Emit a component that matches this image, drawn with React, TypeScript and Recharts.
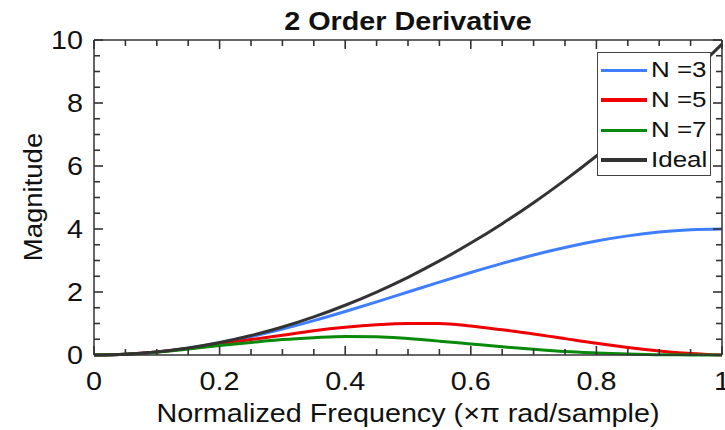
import React from 'react';
import { LineChart, Line, XAxis, YAxis } from 'recharts';

const freq = [0, 0.05, 0.1, 0.15, 0.2, 0.25, 0.3, 0.35, 0.4, 0.45, 0.5, 0.55, 0.6, 0.65, 0.7, 0.75, 0.8, 0.85, 0.9, 0.95, 1];
const n3 = [0, 0.025, 0.098, 0.218, 0.382, 0.586, 0.824, 1.092, 1.382, 1.687, 2.0, 2.313, 2.618, 2.908, 3.176, 3.414, 3.618, 3.782, 3.902, 3.975, 4.0];
const n5 = [0, 0.024, 0.095, 0.205, 0.34, 0.49, 0.63, 0.77, 0.88, 0.96, 1.0, 1.0, 0.92, 0.8, 0.67, 0.52, 0.37, 0.24, 0.13, 0.05, 0];
const n7 = [0, 0.024, 0.09, 0.19, 0.3, 0.4, 0.49, 0.55, 0.59, 0.58, 0.52, 0.44, 0.35, 0.26, 0.18, 0.11, 0.065, 0.03, 0.01, 0.003, 0];
const ideal = [0, 0.025, 0.099, 0.222, 0.395, 0.617, 0.888, 1.209, 1.579, 1.999, 2.467, 2.986, 3.553, 4.17, 4.836, 5.552, 6.317, 7.131, 7.994, 8.907, 9.87];

const xTicks = [0, 0.05, 0.1, 0.15, 0.2, 0.25, 0.3, 0.35, 0.4, 0.45, 0.5, 0.55, 0.6, 0.65, 0.7, 0.75, 0.8, 0.85, 0.9, 0.95, 1];
const xMajor = [0, 0.2, 0.4, 0.6, 0.8, 1];
const xLabels = ['0', '0.2', '0.4', '0.6', '0.8', '1'];
const yTicks = [0, 0.5, 1, 1.5, 2, 2.5, 3, 3.5, 4, 4.5, 5, 5.5, 6, 6.5, 7, 7.5, 8, 8.5, 9, 9.5, 10];
const yMajor = [0, 2, 4, 6, 8, 10];
const yLabels = ['0', '2', '4', '6', '8', '10'];

const seriesNames = ['N =3', 'N =5', 'N =7', 'Ideal'];
const seriesColors = ['#3f7fff', '#ee0000', '#0a8a0a', '#333333'];
const seriesKeys = ['n3', 'n5', 'n7', 'ideal'];

const data = freq.map((f, i) => ({ f, n3: n3[i], n5: n5[i], n7: n7[i], ideal: ideal[i] }));

const FONT = '"Liberation Sans", Arial, sans-serif';
const AXIS = '#333333';
const MAJ = 9;
const MIN = 6;
const SX = 1.15;

const isMajorX = (v: number) => xMajor.some((m) => Math.abs(m - v) < 1e-9);
const isMajorY = (v: number) => yMajor.some((m) => Math.abs(m - v) < 1e-9);

const BottomTick = (props: any) => {
  const { x, y, payload } = props;
  const v = payload.value;
  const major = isMajorX(v);
  const idx = xMajor.findIndex((m) => Math.abs(m - v) < 1e-9);
  return (
    <g>
      <path d={`M${x},${y}L${x},${y - (major ? MAJ : MIN)}`} stroke={AXIS} strokeWidth={1.6} fill="none" />
      {major && (
        <g transform={`translate(${x},${y + 35}) scale(${SX},1)`}>
          <text x={0} y={0} textAnchor="middle" fontFamily={FONT} fontSize={25} fill="#111">
            {xLabels[idx]}
          </text>
        </g>
      )}
    </g>
  );
};

const TopTick = (props: any) => {
  const { x, y, payload } = props;
  const major = isMajorX(payload.value);
  return (
    <g>
      <path d={`M${x},${y}L${x},${y + (major ? MAJ : MIN)}`} stroke={AXIS} strokeWidth={1.6} fill="none" />
    </g>
  );
};

const LeftTick = (props: any) => {
  const { x, y, payload } = props;
  const v = payload.value;
  const major = isMajorY(v);
  const idx = yMajor.findIndex((m) => Math.abs(m - v) < 1e-9);
  return (
    <g>
      <path d={`M${x},${y}L${x + (major ? MAJ : MIN)},${y}`} stroke={AXIS} strokeWidth={1.6} fill="none" />
      {major && (
        <g transform={`translate(${x - 11},${y + 9}) scale(${SX},1)`}>
          <text x={0} y={0} textAnchor="end" fontFamily={FONT} fontSize={25} fill="#111">
            {yLabels[idx]}
          </text>
        </g>
      )}
    </g>
  );
};

const RightTick = (props: any) => {
  const { x, y, payload } = props;
  const major = isMajorY(payload.value);
  return (
    <g>
      <path d={`M${x},${y}L${x - (major ? MAJ : MIN)},${y}`} stroke={AXIS} strokeWidth={1.6} fill="none" />
    </g>
  );
};

export default function App() {
  return (
    <div style={{ position: 'absolute', left: 0, top: 0, width: 725, height: 430, background: '#fff' }}>
      <LineChart width={725} height={430} data={data} margin={{ top: 39, right: 2, bottom: 0, left: 0 }}>
        <XAxis
          dataKey="f"
          type="number"
          domain={[0, 1]}
          ticks={xTicks}
          interval={0}
          height={75}
          tickSize={0}
          tickMargin={0}
          tickLine={false}
          axisLine={{ stroke: AXIS, strokeWidth: 1.5 }}
          tick={<BottomTick />}
        />
        <XAxis
          xAxisId="top"
          orientation="top"
          dataKey="f"
          type="number"
          domain={[0, 1]}
          ticks={xTicks}
          interval={0}
          height={1}
          tickSize={0}
          tickMargin={0}
          tickLine={false}
          axisLine={{ stroke: AXIS, strokeWidth: 1.5 }}
          tick={<TopTick />}
        />
        <YAxis
          type="number"
          domain={[0, 10]}
          ticks={yTicks}
          interval={0}
          width={94}
          tickSize={0}
          tickMargin={0}
          tickLine={false}
          axisLine={{ stroke: AXIS, strokeWidth: 1.5 }}
          tick={<LeftTick />}
        />
        <YAxis
          yAxisId="right"
          orientation="right"
          dataKey="ideal"
          type="number"
          domain={[0, 10]}
          ticks={yTicks}
          interval={0}
          allowDataOverflow
          width={1}
          tickSize={0}
          tickMargin={0}
          tickLine={false}
          axisLine={{ stroke: AXIS, strokeWidth: 1.5 }}
          tick={<RightTick />}
        />
        {seriesKeys.map((k, i) => (
          <Line
            key={k}
            dataKey={k}
            type="monotone"
            stroke={seriesColors[i]}
            strokeWidth={3}
            dot={false}
            activeDot={false}
            isAnimationActive={false}
          />
        ))}
      </LineChart>
      <svg width={725} height={430} style={{ position: 'absolute', left: 0, top: 0, pointerEvents: 'none' }}>
        <g transform={`translate(408,30) scale(${SX},1)`}>
          <text x={0} y={0} textAnchor="middle" fontFamily={FONT} fontSize={25} fontWeight="bold" fill="#111">
            2 Order Derivative
          </text>
        </g>
        <g transform={`translate(408,422) scale(${SX},1)`}>
          <text x={0} y={0} textAnchor="middle" fontFamily={FONT} fontSize={25} fill="#111">
            Normalized Frequency (×π rad/sample)
          </text>
        </g>
        <g transform="translate(42,197) rotate(-90) scale(1.1,1)">
          <text x={0} y={0} textAnchor="middle" fontFamily={FONT} fontSize={25} fill="#111">
            Magnitude
          </text>
        </g>
      </svg>
      <div
        style={{
          position: 'absolute',
          left: 597,
          top: 52,
          width: 112,
          height: 122,
          border: '1.5px solid #444',
          background: '#fff',
          fontFamily: FONT,
          fontSize: 22,
          color: '#111',
        }}
      >
        {seriesNames.map((n, i) => (
          <div key={n} style={{ position: 'absolute', left: 3, top: 2 + i * 30, height: 30, display: 'flex', alignItems: 'center' }}>
            <div style={{ width: 46, height: i === 1 || i === 3 ? 4 : 3, background: seriesColors[i] }} />
            <span style={{ marginLeft: 4, lineHeight: '30px', display: 'inline-block', transform: 'scaleX(1.18)', transformOrigin: 'left center', whiteSpace: 'nowrap' }}>{n}</span>
          </div>
        ))}
      </div>
    </div>
  );
}
